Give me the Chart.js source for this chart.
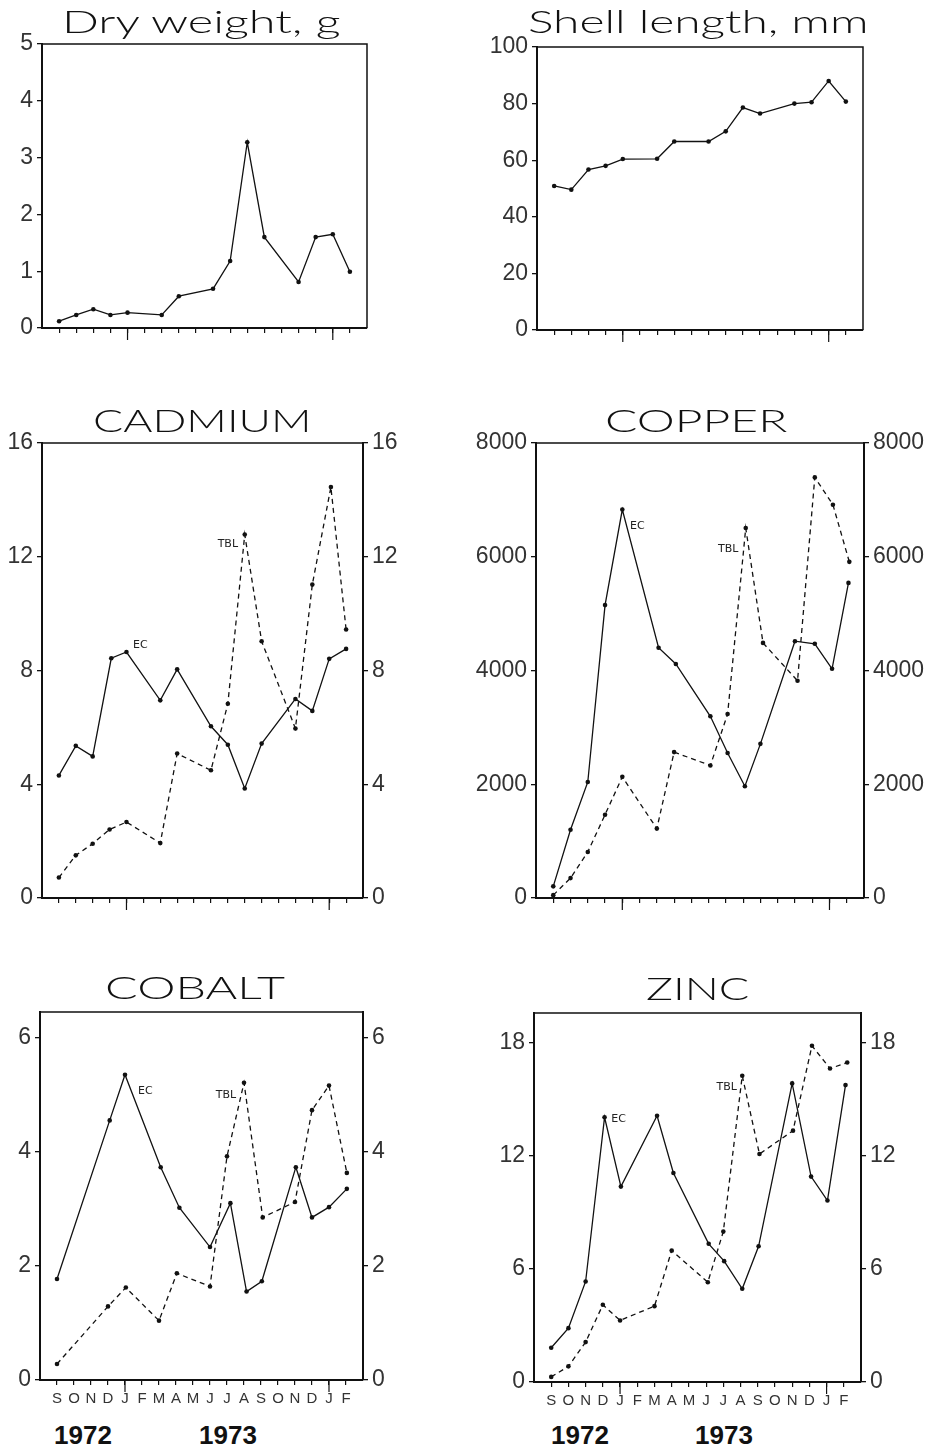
<!DOCTYPE html>
<html>
<head>
<meta charset="utf-8">
<script src="https://cdn.jsdelivr.net/npm/chart.js@4.4.1/dist/chart.umd.min.js"></script>
<style>
  html, body { margin: 0; padding: 0; background: #fff; }
  body { width: 926px; height: 1449px; position: relative; overflow: hidden; }
  canvas { position: absolute; }
  .title {
    position: absolute; white-space: nowrap; line-height: 1;
    font-family: Lato, 'DejaVu Sans', sans-serif; font-weight: 300; font-size: 32px; color: #111;
    transform-origin: 0 0;
  }
  .year {
    position: absolute; width: 100px; text-align: center; line-height: 1;
    font-family: 'Liberation Sans Narrow', 'Liberation Sans', sans-serif; font-weight: bold; font-size: 26px; color: #111;
  }
</style>
</head>
<body>
<script>
// Months Sep 1972 .. Feb 1974, x value = index
var months = ['S', 'O', 'N', 'D', 'J', 'F', 'M', 'A', 'M', 'J', 'J', 'A', 'S', 'O', 'N', 'D', 'J', 'F'];
var longTickMonths = [4, 16];

// Growth
var growthMonths = [0, 1, 2, 3, 4, 6, 7, 9, 10, 11, 12, 14, 15, 16, 17];
var dryWeight = [0.12, 0.23, 0.33, 0.23, 0.27, 0.23, 0.56, 0.69, 1.18, 3.27, 1.60, 0.81, 1.60, 1.65, 0.99];
var shellLength = [50.9, 49.6, 56.7, 58.0, 60.4, 60.5, 66.6, 66.6, 70.2, 78.6, 76.5, 80.0, 80.5, 88.0, 80.7];

// Cadmium
var cdMonthsEC = [0, 1, 2, 3.1, 4, 6, 7, 9, 10, 11, 12, 14, 15, 16, 17];
var cdEC = [4.31, 5.35, 4.98, 8.43, 8.65, 6.95, 8.04, 6.04, 5.39, 3.85, 5.43, 7.0, 6.58, 8.41, 8.76];
var cdMonthsTBL = [0, 1, 2, 3, 4, 6, 7, 9, 10, 11, 12, 14, 15, 16.1, 17];
var cdTBL = [0.72, 1.50, 1.91, 2.41, 2.67, 1.93, 5.08, 4.49, 6.83, 12.78, 9.03, 5.96, 11.02, 14.45, 9.44];

// Copper
var cuMonthsEC = [0, 1, 2, 3, 4, 6.1, 7.1, 9.1, 10.1, 11.1, 12, 14, 15.15, 16.15, 17.1];
var cuEC = [205, 1200, 2040, 5150, 6830, 4400, 4115, 3195, 2550, 1965, 2710, 4515, 4470, 4030, 5540];
var cuMonthsTBL = [0, 1, 2, 3, 4, 6, 7, 9.1, 10.1, 11.15, 12.15, 14.15, 15.15, 16.2, 17.15];
var cuTBL = [50, 350, 810, 1465, 2130, 1220, 2565, 2330, 3235, 6505, 4485, 3820, 7395, 6915, 5910];

// Cobalt
var coMonthsEC = [0, 3.1, 4, 6.1, 7.2, 9, 10.2, 11.15, 12.05, 14.05, 15, 16, 17.05];
var coEC = [1.77, 4.55, 5.35, 3.73, 3.02, 2.33, 3.10, 1.55, 1.73, 3.73, 2.85, 3.03, 3.35];
var coMonthsTBL = [0, 3, 4.05, 6, 7.05, 9, 10, 11, 12.1, 14, 15, 16, 17.05];
var coTBL = [0.28, 1.29, 1.62, 1.04, 1.87, 1.64, 3.92, 5.21, 2.85, 3.12, 4.73, 5.16, 3.63];

// Zinc
var znMonthsEC = [0, 1, 2, 3.1, 4.05, 6.15, 7.1, 9.15, 10.05, 11.1, 12.05, 14, 15.1, 16.05, 17.1];
var znEC = [1.82, 2.86, 5.34, 14.06, 10.38, 14.14, 11.10, 7.34, 6.42, 4.95, 7.21, 15.86, 10.91, 9.64, 15.77];
var znMonthsTBL = [0, 1, 2, 3, 4, 6, 7, 9.1, 10, 11.1, 12.1, 14.05, 15.15, 16.2, 17.2];
var znTBL = [0.27, 0.83, 2.12, 4.10, 3.27, 4.03, 6.98, 5.30, 7.99, 16.27, 12.11, 13.35, 17.86, 16.65, 16.97];

// Y tick labels
var dryTicks = [0, 1, 2, 3, 4, 5];
var shellTicks = [0, 20, 40, 60, 80, 100];
var cdTicks = [0, 4, 8, 12, 16];
var cuTicks = [0, 2000, 4000, 6000, 8000];
var coTicks = [0, 2, 4, 6];
var znTicks = [0, 6, 12, 18];

var years = ['1972', '1973'];

var ink = '#111';
var tickFont = { family: "'Liberation Sans Narrow', 'Liberation Sans', sans-serif", size: 23 };

function pts(xs, ys) {
    return xs.map(function (x, i) { return { x: x, y: ys[i] }; });
}

function ecSet(xs, ys) {
    return { data: pts(xs, ys), borderColor: ink, borderWidth: 1.3, pointRadius: 2.3,
        pointBackgroundColor: ink, pointBorderWidth: 0, tension: 0, fill: false };
}
function tblSet(xs, ys) {
    var d = ecSet(xs, ys);
    d.borderDash = [5, 4];
    return d;
}

var panels = [
    { title: 'Dry weight, g', titleX: 201, titleW: 278, titleBase: 33, colX: 0,
      area: { left: 42, right: 367, top: 44, bottom: 328 }, yMax: 5, yTicks: dryTicks,
      rightAxis: 0, showMonths: false,
      datasets: [ecSet(growthMonths, dryWeight)], labels: [] },
    { title: 'Shell length, mm', titleX: 698, titleW: 340, titleBase: 33, colX: 463,
      area: { left: 537, right: 863, top: 47, bottom: 330 }, yMax: 100, yTicks: shellTicks,
      rightAxis: 0, showMonths: false,
      datasets: [ecSet(growthMonths, shellLength)], labels: [] },
    { title: 'CADMIUM', titleX: 202, titleW: 219, titleBase: 432, colX: 0,
      area: { left: 42, right: 363, top: 443, bottom: 898 }, yMax: 16, yTicks: cdTicks,
      rightAxis: 50, showMonths: false,
      datasets: [ecSet(cdMonthsEC, cdEC), tblSet(cdMonthsTBL, cdTBL)],
      labels: [{ text: 'EC', x: 4.82, y: 8.89 }, { text: 'TBL', x: 10.0, y: 12.43 }] },
    { title: 'COPPER', titleX: 696, titleW: 183, titleBase: 432, colX: 463,
      area: { left: 536, right: 864, top: 443, bottom: 898 }, yMax: 8000, yTicks: cuTicks,
      rightAxis: 60, showMonths: false,
      datasets: [ecSet(cuMonthsEC, cuEC), tblSet(cuMonthsTBL, cuTBL)],
      labels: [{ text: 'EC', x: 4.87, y: 6546 }, { text: 'TBL', x: 10.13, y: 6136 }] },
    { title: 'COBALT', titleX: 195, titleW: 180, titleBase: 999, colX: 0,
      area: { left: 40, right: 363, top: 1012, bottom: 1380 }, yMax: 6.45, yTicks: coTicks,
      rightAxis: 50, showMonths: true,
      datasets: [ecSet(coMonthsEC, coEC), tblSet(coMonthsTBL, coTBL)],
      labels: [{ text: 'EC', x: 5.2, y: 5.06 }, { text: 'TBL', x: 9.94, y: 5.0 }],
      yearX: [83, 228] },
    { title: 'ZINC', titleX: 697, titleW: 103, titleBase: 1000, colX: 463,
      area: { left: 534, right: 861, top: 1013, bottom: 1382 }, yMax: 19.6, yTicks: znTicks,
      rightAxis: 50, showMonths: true,
      datasets: [ecSet(znMonthsEC, znEC), tblSet(znMonthsTBL, znTBL)],
      labels: [{ text: 'EC', x: 3.92, y: 13.97 }, { text: 'TBL', x: 10.2, y: 15.65 }],
      yearX: [580, 724] }
];

// Box around the plot area (top and right sides)
var framePlugin = {
    id: 'frame',
    afterDraw: function (chart) {
        var a = chart.chartArea, ctx = chart.ctx;
        ctx.save();
        ctx.strokeStyle = ink;
        ctx.lineWidth = 1.5;
        ctx.beginPath();
        ctx.moveTo(a.left, a.top);
        ctx.lineTo(a.right, a.top);
        ctx.lineTo(a.right, a.bottom);
        ctx.stroke();
        ctx.restore();
    }
};

// Longer ticks at January
var longTickPlugin = {
    id: 'longTicks',
    afterDraw: function (chart) {
        var x = chart.scales.x, a = chart.chartArea, ctx = chart.ctx;
        ctx.save();
        ctx.strokeStyle = ink;
        ctx.lineWidth = 1.2;
        longTickMonths.forEach(function (m) {
            var px = x.getPixelForValue(m);
            ctx.beginPath();
            ctx.moveTo(px, a.bottom);
            ctx.lineTo(px, a.bottom + 12);
            ctx.stroke();
        });
        ctx.restore();
    }
};

// EC / TBL curve labels
var curveLabelPlugin = {
    id: 'curveLabels',
    afterDatasetsDraw: function (chart, args, opts) {
        var ctx = chart.ctx;
        ctx.save();
        ctx.fillStyle = '#222';
        ctx.font = "11px 'DejaVu Sans', sans-serif";
        ctx.textAlign = 'center';
        ctx.textBaseline = 'middle';
        (opts.items || []).forEach(function (l) {
            ctx.fillText(l.text, chart.scales.x.getPixelForValue(l.x), chart.scales.y.getPixelForValue(l.y));
        });
        ctx.restore();
    }
};

function makePanel(p) {
    var xAxisH = p.showMonths ? 32 : 15;
    var top = p.area.top - 20;
    var h = (p.area.bottom - p.area.top) + 20 + xAxisH + 4;
    var leftW = p.area.left - p.colX;
    var rightW = p.rightAxis;
    var padRight = 463 - (p.area.right - p.colX) - rightW;

    var canvas = document.createElement('canvas');
    canvas.width = 463;
    canvas.height = h;
    canvas.style.left = p.colX + 'px';
    canvas.style.top = top + 'px';
    canvas.style.width = '463px';
    canvas.style.height = h + 'px';
    document.body.appendChild(canvas);

    function yAxis(pos, width) {
        return {
            type: 'linear', position: pos, min: 0, max: p.yMax, display: true,
            afterBuildTicks: function (s) { s.ticks = p.yTicks.map(function (v) { return { value: v }; }); },
            afterFit: function (s) { s.width = width; },
            grid: { drawOnChartArea: false, drawTicks: true, tickLength: 5, color: ink, tickColor: ink, lineWidth: 1.3 },
            border: { display: true, color: ink, width: 2 },
            ticks: { font: tickFont, color: '#333', padding: 4, callback: function (v) { return String(v); } }
        };
    }

    var scales = {
        x: {
            type: 'linear', position: 'bottom', min: -1, max: 18,
            afterBuildTicks: function (s) { s.ticks = months.map(function (m, i) { return { value: i }; }); },
            afterFit: function (s) { s.height = xAxisH; },
            grid: { drawOnChartArea: false, drawTicks: true, tickLength: 5, color: ink, tickColor: ink, lineWidth: 1.2 },
            border: { display: true, color: ink, width: 2 },
            ticks: {
                display: p.showMonths, autoSkip: false, maxRotation: 0, padding: 5,
                font: { family: "'Liberation Sans', sans-serif", size: 15 }, color: '#333',
                callback: function (v) { return months[v]; }
            }
        },
        y: yAxis('left', leftW)
    };
    if (p.rightAxis) scales.y2 = yAxis('right', rightW);

    new Chart(canvas, {
        type: 'line',
        data: { datasets: p.datasets },
        options: {
            responsive: false,
            animation: false,
            layout: { padding: { top: 20, left: 0, right: padRight, bottom: 4 } },
            scales: scales,
            plugins: {
                legend: { display: false },
                tooltip: { enabled: false },
                curveLabels: { items: p.labels }
            }
        },
        plugins: [framePlugin, longTickPlugin, curveLabelPlugin]
    });

    // Title, stretched to the width it has in the figure
    var t = document.createElement('div');
    t.className = 'title';
    t.textContent = p.title;
    document.body.appendChild(t);
    var w = t.offsetWidth;
    var sx = p.titleW / w;
    t.style.left = (p.titleX - p.titleW / 2) + 'px';
    t.style.top = (p.titleBase - 28) + 'px';
    t.style.transform = 'scaleX(' + sx + ')';

    if (p.yearX) {
        p.yearX.forEach(function (cx, i) {
            var y = document.createElement('div');
            y.className = 'year';
            y.textContent = years[i];
            y.style.left = (cx - 50) + 'px';
            y.style.top = '1422px';
            document.body.appendChild(y);
        });
    }
}

panels.forEach(makePanel);
</script>
</body>
</html>
